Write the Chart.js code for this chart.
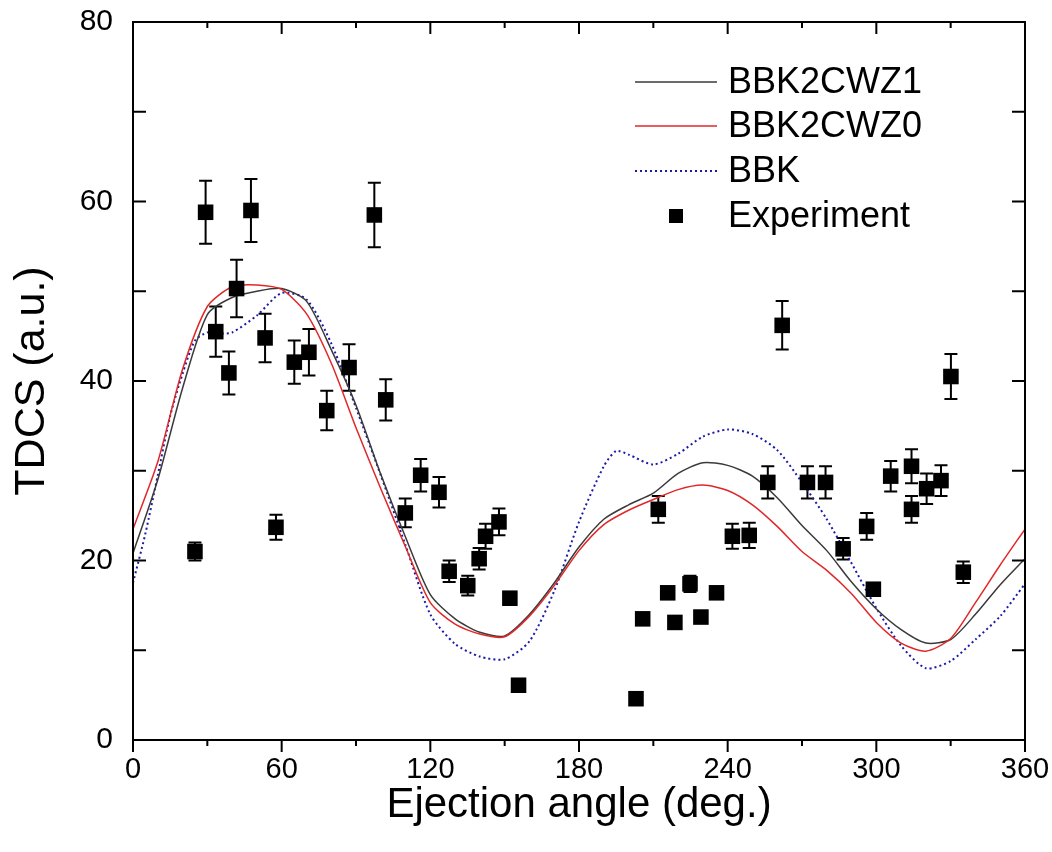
<!DOCTYPE html>
<html>
<head>
<meta charset="utf-8">
<script src="https://cdn.jsdelivr.net/npm/chart.js@4/dist/chart.umd.min.js"></script>
<style>
  html, body { margin: 0; padding: 0; background: #fff; }
  #wrap { width: 1052px; height: 852px; position: relative; }
</style>
</head>
<body>
<div id="wrap"><canvas id="c" width="1052" height="852"></canvas></div>
<script>
// ---- Data ----
const curveAngles = [0,10,20,30,40,50,60,70,80,90,100,110,120,130,140,150,160,170,180,190,200,210,220,230,240,250,260,270,280,290,300,310,320,330,340,350,360];
const bbk2cwz1 = [20.8,29.0,39.2,47.4,49.3,50.0,50.3,48.9,43.5,37.3,29.6,22.6,16.2,13.5,12.0,11.6,14.0,17.5,21.5,24.6,26.2,27.5,29.7,30.9,30.6,29.4,27.0,23.9,21.1,17.6,14.6,12.3,10.8,11.2,14.0,17.3,20.2];
const bbk2cwz0 = [23.5,31.0,41.3,48.3,50.5,50.7,50.2,47.5,42.0,34.8,28.0,21.5,15.3,12.9,11.8,11.5,13.8,17.2,21.1,24.0,25.6,26.8,27.9,28.4,27.8,26.2,23.8,21.0,18.9,16.3,13.1,10.8,9.9,11.3,15.3,19.5,23.5];
const bbkAngles = [0,5,10,15,20,25,30,35,40,50,60,70,80,90,100,110,120,130,140,150,160,170,180,190,195,200,210,220,230,240,250,260,270,280,290,300,310,320,330,340,350,360];
const bbk = [17.5,23.0,29.5,36.1,40.8,44.5,45.4,45.3,45.4,47.3,49.8,49.1,44.2,37.0,29.5,21.7,14.0,10.7,9.3,9.0,11.0,16.6,24.3,30.5,32.2,31.8,30.7,31.9,33.8,34.6,34.1,32.3,28.7,24.6,19.7,14.7,10.5,8.0,8.8,11.2,13.8,17.4];
const expAngles = [25.0,29.3,33.4,38.7,41.8,47.6,53.3,57.7,65.1,71.0,78.2,87.2,97.4,102.0,109.9,116.1,123.5,127.6,135.1,139.7,142.3,147.7,152.1,155.6,203.0,205.7,212.0,215.8,218.7,224.8,229.2,235.5,241.9,248.7,256.2,262.0,272.2,279.5,286.6,296.1,298.8,305.8,314.2,314.2,320.3,326.1,330.1,335.1];
const expValues = [21.0,58.8,45.5,40.9,50.3,59.0,44.8,23.7,42.1,43.2,36.7,41.5,58.5,37.9,25.3,29.5,27.6,18.8,17.2,20.2,22.7,24.3,15.8,6.1,4.6,13.5,25.7,16.4,13.1,17.4,13.7,16.4,22.7,22.8,28.7,46.2,28.7,28.7,21.3,23.8,16.8,29.4,30.5,25.7,28.0,28.9,40.5,18.7];
const expErrors = [1.0,3.5,2.8,2.4,3.2,3.5,2.7,1.4,2.4,2.6,2.2,2.6,3.6,2.3,1.6,1.8,1.7,1.2,1.1,1.2,1.4,1.5,0.5,0,0,0,1.5,0.6,0,0.9,0,0.6,1.4,1.4,1.8,2.7,1.8,1.8,1.2,1.5,0.6,1.7,1.9,1.5,1.7,1.7,2.5,1.2];
const xTicks = [0,60,120,180,240,300,360];
const yTicks = [0,20,40,60,80];
const seriesNames = ['BBK2CWZ1','BBK2CWZ0','BBK','Experiment'];
const xTitle = 'Ejection angle (deg.)';
const yTitle = 'TDCS (a.u.)';

const toXY = (xs, ys) => xs.map((x, i) => ({x: x, y: ys[i]}));

const FONT = "'Liberation Sans', Arial, sans-serif";

// Error bars (drawn behind the markers) through the chart's scales
const errorBarPlugin = {
  id: 'errorBars',
  beforeDatasetsDraw(chart) {
    const {ctx, scales: {x, y}} = chart;
    ctx.save();
    ctx.strokeStyle = '#000';
    ctx.lineWidth = 2;
    expAngles.forEach((a, i) => {
      const e = expErrors[i];
      if (!e) return;
      const px = x.getPixelForValue(a);
      const yt = y.getPixelForValue(expValues[i] + e);
      const yb = y.getPixelForValue(expValues[i] - e);
      ctx.beginPath();
      ctx.moveTo(px, yt); ctx.lineTo(px, yb);
      ctx.moveTo(px - 6.5, yt); ctx.lineTo(px + 6.5, yt);
      ctx.moveTo(px - 6.5, yb); ctx.lineTo(px + 6.5, yb);
      ctx.stroke();
    });
    ctx.restore();
  }
};

// Frame and tick marks
const framePlugin = {
  id: 'frame',
  afterDatasetsDraw(chart) {
    const {ctx, chartArea: a, scales: {x, y}} = chart;
    ctx.save();
    ctx.strokeStyle = '#000';
    ctx.lineWidth = 2;
    ctx.strokeRect(a.left, a.top, a.right - a.left, a.bottom - a.top);
    ctx.beginPath();
    for (let v = 0; v <= 360; v += 30) {
      const px = x.getPixelForValue(v);
      const len = (v % 60 === 0) ? 12 : 6;
      ctx.moveTo(px, a.bottom); ctx.lineTo(px, a.bottom + len);
      ctx.moveTo(px, a.top); ctx.lineTo(px, a.top + len);
    }
    for (let v = 0; v <= 80; v += 10) {
      const py = y.getPixelForValue(v);
      ctx.moveTo(a.left, py); ctx.lineTo(a.left + 13, py);
      ctx.moveTo(a.right, py); ctx.lineTo(a.right - 13, py);
    }
    ctx.stroke();
    ctx.restore();
  }
};

// In-plot legend
const legendPlugin = {
  id: 'inLegend',
  afterDraw(chart) {
    const {ctx} = chart;
    const rows = [82, 126, 171, 216];
    const styles = chart.data.datasets;
    ctx.save();
    ctx.font = '36px ' + FONT;
    ctx.textBaseline = 'middle';
    ctx.fillStyle = '#000';
    [0, 1, 2, 3].forEach((di, r) => {
      const ds = styles[di];
      const yy = rows[r];
      if (di < 3) {
        ctx.save();
        ctx.strokeStyle = ds.borderColor;
        ctx.lineWidth = ds.borderWidth;
        ctx.setLineDash(ds.borderDash || []);
        ctx.beginPath();
        ctx.moveTo(635, yy); ctx.lineTo(717, yy);
        ctx.stroke();
        ctx.restore();
      } else {
        ctx.fillRect(676 - 7, yy - 7, 14, 14);
      }
      ctx.fillText(seriesNames[di], 728, yy + 1);
    });
    ctx.restore();
  }
};

new Chart(document.getElementById('c'), {
  type: 'scatter',
  data: {
    datasets: [
      { label: seriesNames[0], data: toXY(curveAngles, bbk2cwz1), showLine: true, borderColor: '#3a3a3a', borderWidth: 1.5, pointRadius: 0, tension: 0.25, order: 3 },
      { label: seriesNames[1], data: toXY(curveAngles, bbk2cwz0), showLine: true, borderColor: '#e02828', borderWidth: 1.5, pointRadius: 0, tension: 0.25, order: 2 },
      { label: seriesNames[2], data: toXY(bbkAngles, bbk), showLine: true, borderColor: '#1a1aa8', borderWidth: 2, borderDash: [2, 3], pointRadius: 0, tension: 0.25, order: 4 },
      { label: seriesNames[3], data: toXY(expAngles, expValues), showLine: false, pointStyle: 'rect', pointRadius: 11, pointHoverRadius: 11, backgroundColor: '#000', borderColor: '#000', borderWidth: 0, order: 1 }
    ]
  },
  options: {
    responsive: false,
    animation: false,
    devicePixelRatio: 1,
    layout: { padding: { left: 0, right: 27, top: 22, bottom: 0 } },
    plugins: { legend: { display: false }, tooltip: { enabled: false } },
    scales: {
      x: {
        type: 'linear', min: 0, max: 360,
        afterBuildTicks: (s) => { s.ticks = xTicks.map(v => ({value: v})); },
        afterFit: (s) => { s.height = 112; s.paddingLeft = 0; s.paddingRight = 0; },
        grid: { display: false, drawTicks: false },
        border: { display: false },
        ticks: { color: '#000', font: { family: FONT, size: 29 }, padding: 13, maxRotation: 0 },
        title: { display: true, text: xTitle, color: '#000', font: { family: FONT, size: 42 }, padding: { top: 0, bottom: 21 } }
      },
      y: {
        type: 'linear', min: 0, max: 80,
        afterBuildTicks: (s) => { s.ticks = yTicks.map(v => ({value: v})); },
        afterFit: (s) => { s.width = 133; s.paddingTop = 0; s.paddingBottom = 0; },
        grid: { display: false, drawTicks: false },
        border: { display: false },
        ticks: { color: '#000', font: { family: FONT, size: 30 }, padding: 20 },
        title: { display: true, text: yTitle, color: '#000', font: { family: FONT, size: 43 }, padding: { top: 6, bottom: 0 } }
      }
    }
  },
  plugins: [errorBarPlugin, framePlugin, legendPlugin]
});
</script>
</body>
</html>
